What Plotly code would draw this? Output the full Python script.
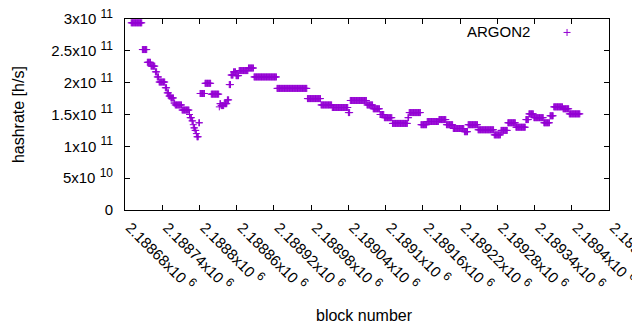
import plotly.graph_objects as go

# Run-length encoded hashrate series: each run starts at a block and keeps
# its hashrate until the next run starts (last run ends at LAST_BLOCK).
run_start = [
    2188690, 2188708, 2188716, 2188722, 2188729, 2188732, 2188735, 2188745,
    2188748, 2188751, 2188754, 2188759, 2188761, 2188772, 2188784, 2188785,
    2188788, 2188790, 2188791, 2188793, 2188795, 2188796, 2188799, 2188801,
    2188809, 2188819, 2188832, 2188833, 2188835, 2188840, 2188845, 2188848,
    2188851, 2188855, 2188859, 2188864, 2188879, 2188888, 2188925, 2188974,
    2188996, 2189014, 2189040, 2189043, 2189070, 2189080, 2189091, 2189098,
    2189111, 2189136, 2189138, 2189157, 2189167, 2189186, 2189198, 2189209,
    2189227, 2189233, 2189249, 2189275, 2189286, 2189297, 2189310, 2189326,
    2189331, 2189339, 2189355, 2189365, 2189371, 2189386, 2189396,
]
run_hashrate = [
    2.94e11, 2.52e11, 2.32e11, 2.26e11, 2.17e11, 2.09e11, 2.01e11, 1.92e11,
    1.84e11, 1.79e11, 1.76e11, 1.68e11, 1.65e11, 1.57e11, 1.50e11, 1.45e11,
    1.40e11, 1.34e11, 1.29e11, 1.25e11, 1.20e11, 1.15e11, 1.37e11, 1.83e11,
    1.99e11, 1.82e11, 1.62e11, 1.67e11, 1.64e11, 1.67e11, 1.73e11, 1.97e11,
    2.12e11, 2.17e11, 2.11e11, 2.19e11, 2.23e11, 2.09e11, 1.91e11, 1.75e11,
    1.65e11, 1.61e11, 1.53e11, 1.72e11, 1.65e11, 1.59e11, 1.50e11, 1.45e11,
    1.36e11, 1.45e11, 1.53e11, 1.34e11, 1.39e11, 1.42e11, 1.34e11, 1.28e11,
    1.23e11, 1.34e11, 1.26e11, 1.18e11, 1.25e11, 1.37e11, 1.30e11, 1.42e11,
    1.51e11, 1.45e11, 1.37e11, 1.48e11, 1.62e11, 1.59e11, 1.51e11,
]
LAST_BLOCK = 2189413

x_tick_vals = [2188680 + 60 * i for i in range(14)]
x_tick_text = ["2.18868", "2.18874", "2.1888", "2.18886", "2.18892", "2.18898",
               "2.18904", "2.1891", "2.18916", "2.18922", "2.18928", "2.18934",
               "2.1894", "2.18946"]
y_tick_vals = [0, 5e10, 1e11, 1.5e11, 2e11, 2.5e11, 3e11]
y_tick_mant = ["0", "5", "1", "1.5", "2", "2.5", "3"]
y_tick_exp = ["", "10", "11", "11", "11", "11", "11"]

blocks, rates = [], []
ends = run_start[1:] + [LAST_BLOCK + 1]
for s, e, v in zip(run_start, ends, run_hashrate):
    for b in range(s, e):
        blocks.append(b)
        rates.append(v)

COLOR = "#9400D3"
FONT = "Liberation Sans, Arial, sans-serif"

fig = go.Figure()
fig.add_trace(go.Scatter(
    x=blocks, y=rates, mode="markers", name="ARGON2", showlegend=False,
    marker=dict(symbol="cross-thin", size=5, color=COLOR,
                line=dict(color=COLOR, width=1)),
))

def sup(t):
    return "<sup><span style='font-size:12px'>" + t + "</span></sup>"

xt = [t + "x10 " + sup("6") for t in x_tick_text]
yt = [m if e == "" else m + "x10 " + sup(e) for m, e in zip(y_tick_mant, y_tick_exp)]

# the page body has an 8px default margin; the figure is sized to fill the rest
OFF = 8
W, H = 640 - OFF, 330 - OFF
# plot-area corners in page pixels
L, R, T, B = 124.5, 609, 19, 210.5
pw, ph = R - L, B - T

def px(x):
    return (x - L) / pw

def py(y):
    return (B - y) / ph

fig.update_layout(
    width=W, height=H,
    margin=dict(l=L - OFF, r=640 - R, t=T - OFF, b=330 - B, pad=0),
    paper_bgcolor="white", plot_bgcolor="white",
    font=dict(family=FONT, size=15, color="black"),
    showlegend=False,
    xaxis=dict(range=[2188680, 2189460], tickvals=x_tick_vals, ticktext=xt,
               tickangle=45, ticks="inside", ticklen=5, tickcolor="black",
               showline=True, linecolor="black", linewidth=1, mirror="allticks",
               showgrid=False, zeroline=False, automargin=False,
               ticklabeloverflow="allow", ticklabelshift=5, ticklabelstandoff=2,
               tickfont=dict(size=15)),
    yaxis=dict(range=[0, 3e11], tickvals=y_tick_vals, ticktext=yt,
               ticks="inside", ticklen=5, tickcolor="black",
               showline=True, linecolor="black", linewidth=1, mirror="allticks",
               showgrid=False, zeroline=False, automargin=False,
               ticklabeloverflow="allow",
               ticklabelstandoff=8, tickfont=dict(size=15)),
    annotations=[
        dict(text="hashrate [h/s]", xref="paper", yref="paper",
             x=px(18), y=0.5, textangle=-90, showarrow=False,
             xanchor="center", yanchor="middle", font=dict(size=16)),
        dict(text="block number", xref="paper", yref="paper",
             x=px(364), y=py(316), showarrow=False,
             xanchor="center", yanchor="middle", font=dict(size=16)),
        dict(text="ARGON2", xref="paper", yref="paper",
             x=px(532), y=py(31.5), showarrow=False,
             xanchor="right", yanchor="middle", font=dict(size=15)),
    ],
    shapes=[
        dict(type="line", xref="paper", yref="paper",
             x0=px(563.5), x1=px(570.5), y0=py(32.5), y1=py(32.5),
             line=dict(color=COLOR, width=1)),
        dict(type="line", xref="paper", yref="paper",
             x0=px(567), x1=px(567), y0=py(29), y1=py(36),
             line=dict(color=COLOR, width=1)),
    ],
)

fig.write_html("out.html")
